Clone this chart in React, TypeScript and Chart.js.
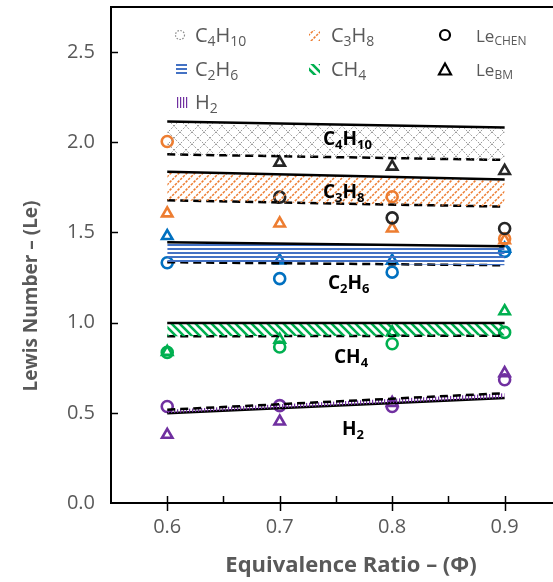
import React, { useEffect, useRef } from "react";
import { Chart, registerables } from "chart.js";

Chart.register(...registerables);

// ---------- DATA ----------
const phiEnds = [0.6, 0.9];
const phiPts = [0.6, 0.7, 0.8, 0.9];

// band limits (upper solid, lower dashed) at phi = 0.6 and 0.9
const c4h10Upper = [2.115, 2.082];
const c4h10Lower = [1.933, 1.902];
const c3h8Upper = [1.837, 1.794];
const c3h8Lower = [1.678, 1.643];
const c2h6Upper = [1.446, 1.424];
const c2h6Lower = [1.335, 1.318];
const ch4Upper = [0.998, 0.998];
const ch4Lower = [0.924, 0.928];
const h2Upper = [0.517, 0.609]; // dashed
const h2Lower = [0.498, 0.582]; // solid

// Le_CHEN (circles) and Le_BM (triangles); null = no mark
const c4h10Chen = [null, 1.696, 1.581, 1.522];
const c4h10BM = [null, 1.887, 1.865, 1.841];
const c3h8Chen = [2.004, null, 1.698, 1.465];
const c3h8BM = [1.606, 1.55, 1.522, 1.457];
const c2h6Chen = [1.332, 1.244, 1.28, 1.395];
const c2h6BM = [1.48, 1.345, 1.344, 1.41];
const ch4Chen = [0.835, 0.865, 0.883, 0.946];
const ch4BM = [0.838, 0.906, 0.946, 1.063];
const h2Chen = [0.535, 0.54, 0.535, 0.683];
const h2BM = [0.378, 0.452, 0.555, 0.72];

const xTicks = [0.6, 0.7, 0.8, 0.9];
const xMinorTicks = [0.65, 0.75, 0.85];
const yTicks = [0, 0.5, 1.0, 1.5, 2.0, 2.5];

const GRAY = "#595959";
const FONT = "'Open Sans', 'DejaVu Sans', sans-serif";

type Part = { t: string; sub?: boolean };

function drawRich(ctx: CanvasRenderingContext2D, parts: Part[], x: number, y: number, size: number, weight: string, color: string) {
  ctx.save();
  ctx.fillStyle = color;
  ctx.textBaseline = "alphabetic";
  ctx.textAlign = "left";
  let cx = x;
  for (const p of parts) {
    const s = p.sub ? Math.round(size * 0.7) : size;
    ctx.font = `${weight} ${s}px ${FONT}`;
    ctx.fillText(p.t, cx, p.sub ? y + size * 0.2 : y);
    cx += ctx.measureText(p.t).width;
  }
  ctx.restore();
}

function makePattern(ctx: CanvasRenderingContext2D, w: number, h: number, draw: (g: CanvasRenderingContext2D) => void) {
  const c = document.createElement("canvas");
  c.width = w;
  c.height = h;
  const g = c.getContext("2d")!;
  draw(g);
  return ctx.createPattern(c, "repeat")!;
}

const noPad = (s: any) => {
  s.paddingTop = 0;
  s.paddingBottom = 0;
  s.paddingLeft = 0;
  s.paddingRight = 0;
};

export default function App() {
  const ref = useRef<HTMLCanvasElement>(null);
  useEffect(() => {
    const canvas = ref.current!;
    const ctx = canvas.getContext("2d")!;

    const patC4 = makePattern(ctx, 12, 12, (g) => {
      g.strokeStyle = "#9a9a9a";
      g.lineWidth = 1;
      g.setLineDash([2, 1.5]);
      g.beginPath();
      g.moveTo(0, 0); g.lineTo(12, 12);
      g.moveTo(12, 0); g.lineTo(0, 12);
      g.stroke();
    });
    const patC3 = makePattern(ctx, 8, 8, (g) => {
      g.strokeStyle = "#ED7D31";
      g.lineWidth = 1.5;
      g.setLineDash([2.5, 1.2]);
      g.beginPath();
      g.moveTo(-1, 9); g.lineTo(9, -1);
      g.moveTo(-1, 1); g.lineTo(1, -1);
      g.moveTo(7, 9); g.lineTo(9, 7);
      g.stroke();
    });
    const patC2 = makePattern(ctx, 4, 4, (g) => {
      g.fillStyle = "#4472C4";
      g.fillRect(0, 0, 4, 2);
    });
    const patCH4 = makePattern(ctx, 8, 8, (g) => {
      g.strokeStyle = "#00B050";
      g.lineWidth = 2.6;
      g.beginPath();
      g.moveTo(-1, -1); g.lineTo(9, 9);
      g.moveTo(-1, 7); g.lineTo(1, 9);
      g.moveTo(7, -1); g.lineTo(9, 1);
      g.stroke();
    });
    const patH2 = makePattern(ctx, 3, 3, (g) => {
      g.fillStyle = "#7030A0";
      g.fillRect(0, 0, 1.2, 3);
    });

    const band = (u: number[], l: number[], pat: CanvasPattern, upperDashed = false) => [
      {
        data: phiEnds.map((x, i) => ({ x, y: u[i] })),
        showLine: true,
        borderColor: "#000",
        borderWidth: 2.5,
        borderDash: upperDashed ? [8, 5] : [],
        pointRadius: 0,
        fill: "+1",
        backgroundColor: pat,
      },
      {
        data: phiEnds.map((x, i) => ({ x, y: l[i] })),
        showLine: true,
        borderColor: "#000",
        borderWidth: 2.5,
        borderDash: upperDashed ? [] : [8, 5],
        pointRadius: 0,
        fill: false,
      },
    ];

    const pts = (vals: (number | null)[], color: string, style: string) => ({
      data: phiPts.map((x, i) => ({ x, y: vals[i] })).filter((p) => p.y !== null),
      showLine: false,
      pointStyle: style,
      pointRadius: style === "triangle" ? 6 : 5.5,
      pointBorderWidth: 2.6,
      borderColor: color,
      pointBorderColor: color,
      pointBackgroundColor: "rgba(255,255,255,0)",
      backgroundColor: "rgba(255,255,255,0)",
      fill: false,
    });

    const BLK = "#262626", ORG = "#ED7D31", BLU = "#0070C0", GRN = "#00B050", PUR = "#7030A0";

    const overlay = {
      id: "overlay",
      afterDraw(chart: any) {
        const c = chart.ctx as CanvasRenderingContext2D;
        const { chartArea: a, scales } = chart;
        const xs = scales.x, ys = scales.y;
        c.save();
        c.strokeStyle = "#000";
        c.lineWidth = 2;
        // top border
        c.beginPath();
        c.moveTo(a.left - 1, a.top);
        c.lineTo(a.right, a.top);
        c.stroke();
        // y ticks (inside)
        c.lineWidth = 1.5;
        for (const v of yTicks) {
          if (v === 0) continue;
          const py = Math.round(ys.getPixelForValue(v)) + 0.5;
          c.beginPath(); c.moveTo(a.left, py); c.lineTo(a.left + 7, py); c.stroke();
        }
        // x ticks: major crossing, minor inside
        for (const v of xTicks) {
          const px = Math.round(xs.getPixelForValue(v)) + 0.5;
          c.beginPath(); c.moveTo(px, a.bottom - 7); c.lineTo(px, a.bottom + 8); c.stroke();
        }
        for (const v of xMinorTicks) {
          const px = Math.round(xs.getPixelForValue(v)) + 0.5;
          c.beginPath(); c.moveTo(px, a.bottom - 7); c.lineTo(px, a.bottom); c.stroke();
        }
        c.restore();

        // axis titles
        c.save();
        c.fillStyle = GRAY;
        c.textAlign = "center";
        c.textBaseline = "middle";
        c.font = `bold 22px ${FONT}`;
        c.fillText("Equivalence Ratio \u2013 (\u03A6)", 351, 566);
        c.font = `bold 19px ${FONT}`;
        c.translate(32, 296);
        c.rotate(-Math.PI / 2);
        c.fillText("Lewis Number \u2013 (Le)", 0, 0);
        c.restore();

        // in-plot band labels
        drawRich(c, [{ t: "C" }, { t: "4", sub: true }, { t: "H" }, { t: "10", sub: true }], 323, 145, 19, "bold", "#000");
        drawRich(c, [{ t: "C" }, { t: "3", sub: true }, { t: "H" }, { t: "8", sub: true }], 323, 198, 19, "bold", "#000");
        drawRich(c, [{ t: "C" }, { t: "2", sub: true }, { t: "H" }, { t: "6", sub: true }], 328, 289, 19, "bold", "#000");
        drawRich(c, [{ t: "CH" }, { t: "4", sub: true }], 334, 363, 19, "bold", "#000");
        drawRich(c, [{ t: "H" }, { t: "2", sub: true }], 342, 435, 19, "bold", "#000");

        // legend
        const sw = (pat: CanvasPattern, x: number, y: number) => {
          c.save();
          c.fillStyle = pat;
          c.fillRect(x, y, 11, 11);
          c.restore();
        };
        c.save();
        c.strokeStyle = "#8a8a8a";
        c.lineWidth = 1.2;
        c.setLineDash([1.5, 1.5]);
        c.beginPath();
        c.arc(180, 35, 4.5, 0, Math.PI * 2);
        c.stroke();
        c.restore();
        sw(patC3, 309, 30);
        sw(patC2, 176, 64);
        sw(patCH4, 309, 64);
        sw(patH2, 177, 97);

        drawRich(c, [{ t: "C" }, { t: "4", sub: true }, { t: "H" }, { t: "10", sub: true }], 195, 42, 20, "normal", GRAY);
        drawRich(c, [{ t: "C" }, { t: "3", sub: true }, { t: "H" }, { t: "8", sub: true }], 331, 42, 20, "normal", GRAY);
        drawRich(c, [{ t: "C" }, { t: "2", sub: true }, { t: "H" }, { t: "6", sub: true }], 195, 76, 20, "normal", GRAY);
        drawRich(c, [{ t: "CH" }, { t: "4", sub: true }], 331, 76, 20, "normal", GRAY);
        drawRich(c, [{ t: "H" }, { t: "2", sub: true }], 195, 109, 20, "normal", GRAY);
        drawRich(c, [{ t: "Le" }, { t: "CHEN", sub: true }], 476, 42, 17, "normal", GRAY);
        drawRich(c, [{ t: "Le" }, { t: "BM", sub: true }], 476, 76, 17, "normal", GRAY);

        c.save();
        c.strokeStyle = "#000";
        c.lineWidth = 2.2;
        c.beginPath();
        c.arc(445, 35, 5, 0, Math.PI * 2);
        c.stroke();
        c.beginPath();
        c.moveTo(445, 63.5); c.lineTo(451, 74.5); c.lineTo(439, 74.5); c.closePath();
        c.stroke();
        c.restore();
      },
    };

    const chart = new Chart(ctx, {
      type: "scatter",
      data: {
        datasets: [
          ...band(c4h10Upper, c4h10Lower, patC4),
          ...band(c3h8Upper, c3h8Lower, patC3),
          ...band(c2h6Upper, c2h6Lower, patC2),
          ...band(ch4Upper, ch4Lower, patCH4),
          ...band(h2Upper, h2Lower, patH2, true),
          pts(c4h10BM, BLK, "triangle"),
          pts(c4h10Chen, BLK, "circle"),
          pts(c3h8BM, ORG, "triangle"),
          pts(c3h8Chen, ORG, "circle"),
          pts(c2h6BM, BLU, "triangle"),
          pts(c2h6Chen, BLU, "circle"),
          pts(ch4BM, GRN, "triangle"),
          pts(ch4Chen, GRN, "circle"),
          pts(h2BM, PUR, "triangle"),
          pts(h2Chen, PUR, "circle"),
        ] as any,
      },
      options: {
        animation: false,
        responsive: false,
        devicePixelRatio: 1,
        layout: { autoPadding: false, padding: { top: 7, right: 0, left: 0, bottom: 0 } },
        plugins: { legend: { display: false }, tooltip: { enabled: false } },
        scales: {
          x: {
            type: "linear",
            min: 0.55,
            max: 0.943,
            afterBuildTicks: (s: any) => { s.ticks = xTicks.map((v) => ({ value: v })); },
            afterFit: (s: any) => { s.height = 79; noPad(s); },
            grid: { display: false, drawTicks: false },
            border: { display: true, color: "#000", width: 2 },
            ticks: {
              color: GRAY,
              font: { family: FONT, size: 20 },
              padding: 12,
              maxRotation: 0,
              callback: (v: any) => Number(v).toFixed(1),
            },
          },
          y: {
            type: "linear",
            min: 0,
            max: 2.75,
            afterBuildTicks: (s: any) => { s.ticks = yTicks.map((v) => ({ value: v })); },
            afterFit: (s: any) => { s.width = 111; noPad(s); },
            grid: { display: false, drawTicks: false },
            border: { display: true, color: "#000", width: 2 },
            ticks: {
              color: GRAY,
              font: { family: FONT, size: 20 },
              padding: 16,
              callback: (v: any) => Number(v).toFixed(1),
            },
          },
        },
      },
      plugins: [overlay],
    });
    return () => chart.destroy();
  }, []);

  return (
    <div style={{ position: "absolute", left: 0, top: 0, width: 553, height: 582, background: "#fff" }}>
      <canvas ref={ref} width={553} height={582} style={{ display: "block" }} />
    </div>
  );
}
